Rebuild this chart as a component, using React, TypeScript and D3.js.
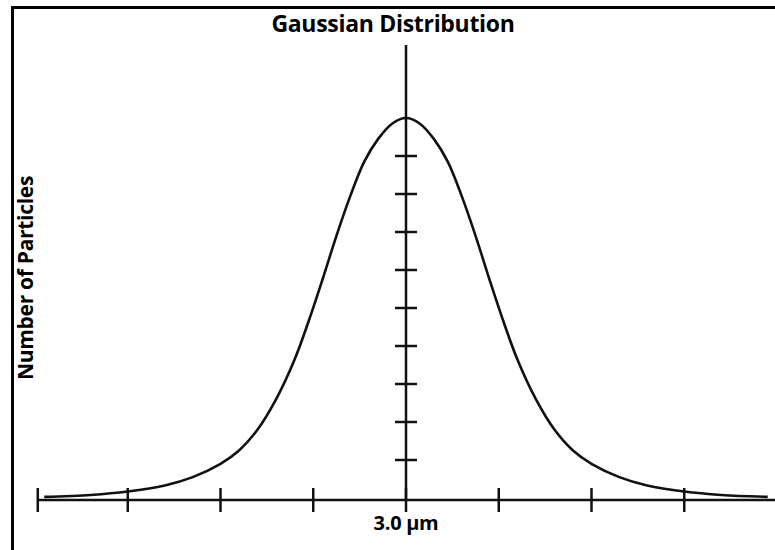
import React from "react"
import * as d3 from "d3"

// curve points: x in tick units (0 = 3.0 µm), y in tick units (peak = 10)
const curveX = [-3.9, -3.4, -3, -2.6, -2.3, -2, -1.8, -1.6, -1.4, -1.2, -1.05, -0.9, -0.75, -0.6, -0.45, -0.3, -0.15, 0,
  0.15, 0.3, 0.45, 0.6, 0.75, 0.9, 1.05, 1.2, 1.4, 1.6, 1.8, 2, 2.3, 2.6, 3, 3.4, 3.9]
const curveY = [0.03, 0.08, 0.17, 0.33, 0.55, 0.9, 1.25, 1.8, 2.6, 3.65, 4.65, 5.75, 6.9, 7.95, 8.85, 9.45, 9.85, 10,
  9.85, 9.45, 8.85, 7.95, 6.9, 5.75, 4.65, 3.65, 2.6, 1.8, 1.25, 0.9, 0.55, 0.33, 0.17, 0.08, 0.03]

const xTicks = [-3.97, -3, -2, -1, 0, 1, 2, 3]
const yTicks = [1, 2, 3, 4, 5, 6, 7, 8, 9]

const title = "Gaussian Distribution"
const yLabel = "Number of Particles"
const xLabel = "3.0 µm"

const W = 775
const H = 550
const font = "'Open Sans', 'DejaVu Sans', sans-serif"

const App: React.FC = () => {
  const x = d3.scaleLinear().domain([-4, 4]).range([35, 777])
  const y = d3.scaleLinear().domain([0, 10]).range([498, 118])
  const axisY = 500

  const pts: [number, number][] = curveX.map((v, i) => [v, curveY[i]])
  const line = d3.line<[number, number]>()
    .x(d => x(d[0]))
    .y(d => y(d[1]))
    .curve(d3.curveCatmullRom.alpha(0.5))

  return (
    <svg width={W} height={H} style={{ position: "absolute", left: 0, top: 0, background: "#fff" }}>
      {/* frame */}
      <line x1={12.5} y1={6} x2={12.5} y2={H} stroke="#000" strokeWidth={3} />
      <line x1={11} y1={7.5} x2={W} y2={7.5} stroke="#000" strokeWidth={3} />

      <text x={393} y={32} textAnchor="middle" fontFamily={font} fontWeight="bold" fontSize={23}
        letterSpacing={-0.3}>{title}</text>

      <text transform={`translate(${33},${278}) rotate(-90)`} textAnchor="middle"
        fontFamily={font} fontWeight="bold" fontSize={21} letterSpacing={-0.3}>{yLabel}</text>

      {/* x axis */}
      <line x1={x(xTicks[0])} y1={axisY} x2={W} y2={axisY} stroke="#111" strokeWidth={2.5} />
      {xTicks.map((t, i) => (
        <line key={i} x1={x(t)} x2={x(t)} y1={axisY - 12} y2={axisY + 12} stroke="#111" strokeWidth={2.5} />
      ))}

      {/* center vertical axis */}
      <line x1={x(0)} x2={x(0)} y1={45} y2={axisY} stroke="#111" strokeWidth={2.5} />
      {yTicks.map(t => (
        <line key={t} x1={x(0) - 11} x2={x(0) + 11} y1={y(t)} y2={y(t)} stroke="#111" strokeWidth={2.5} />
      ))}

      <path d={line(pts) ?? ""} fill="none" stroke="#111" strokeWidth={2.6} />

      <text x={x(0)} y={530} textAnchor="middle" fontFamily={font} fontWeight="bold" fontSize={20}
        letterSpacing={-0.3}>{xLabel}</text>
    </svg>
  )
}

export default App
